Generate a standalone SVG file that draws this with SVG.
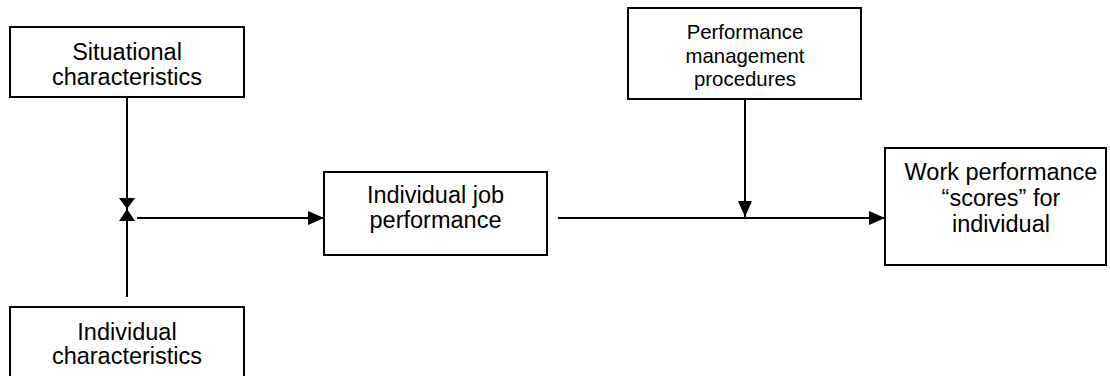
<svg xmlns="http://www.w3.org/2000/svg" width="1110" height="376" viewBox="0 0 1110 376">
  <style>
    .box { fill: #ffffff; stroke: #000000; stroke-width: 2; }
    .lbl { font-family: "Liberation Sans", Arial, sans-serif; font-size: 23.5px; fill: #000000; text-anchor: middle; }
    .sm { font-size: 20.4px; }
    .wire { stroke: #000000; stroke-width: 2; fill: none; }
    .head { fill: #000000; }
  </style>
  <defs>
    <marker id="arrow" viewBox="0 0 16 14" refX="16" refY="7" markerWidth="16" markerHeight="14" markerUnits="userSpaceOnUse" orient="auto">
      <path d="M0,0 L16,7 L0,14 Z" class="head"/>
    </marker>
  </defs>
  <rect width="1110" height="376" fill="#ffffff"/>

  <g id="connectors">
    <!-- situational characteristics down to the junction -->
    <line class="wire" x1="127" y1="97" x2="127" y2="209"/>
    <!-- individual characteristics up to the junction -->
    <line class="wire" x1="127" y1="297" x2="127" y2="209"/>
    <!-- junction bowtie -->
    <path class="head" d="M119,198 L135,198 L127,209 Z"/>
    <path class="head" d="M119,221 L135,221 L127,209 Z"/>
    <!-- junction to individual job performance -->
    <line class="wire" x1="137" y1="218" x2="324" y2="218" marker-end="url(#arrow)"/>
    <!-- individual job performance to work performance scores -->
    <line class="wire" x1="558" y1="218" x2="885" y2="218" marker-end="url(#arrow)"/>
    <!-- performance management procedures down onto the line -->
    <line class="wire" x1="745" y1="99" x2="745" y2="217" marker-end="url(#arrow)"/>
  </g>

  <g id="situational">
    <rect class="box" x="10" y="27" width="234" height="70"/>
    <text class="lbl" x="127" y="60">Situational</text>
    <text class="lbl" x="127" y="85">characteristics</text>
  </g>

  <g id="individual-characteristics">
    <rect class="box" x="10" y="307" width="234" height="80"/>
    <text class="lbl" x="127" y="340">Individual</text>
    <text class="lbl" x="127" y="364">characteristics</text>
  </g>

  <g id="individual-job-performance">
    <rect class="box" x="324" y="172" width="223" height="83"/>
    <text class="lbl" x="435.5" y="203">Individual job</text>
    <text class="lbl" x="435.5" y="228">performance</text>
  </g>

  <g id="performance-management">
    <rect class="box" x="628" y="8" width="233" height="91"/>
    <text class="lbl sm" x="745" y="39">Performance</text>
    <text class="lbl sm" x="745" y="63">management</text>
    <text class="lbl sm" x="745" y="86">procedures</text>
  </g>

  <g id="work-performance-scores">
    <rect class="box" x="885" y="148" width="221" height="117"/>
    <text class="lbl" x="1001" y="180">Work performance</text>
    <text class="lbl" x="1001" y="206">“scores” for</text>
    <text class="lbl" x="1001" y="232">individual</text>
  </g>
</svg>
